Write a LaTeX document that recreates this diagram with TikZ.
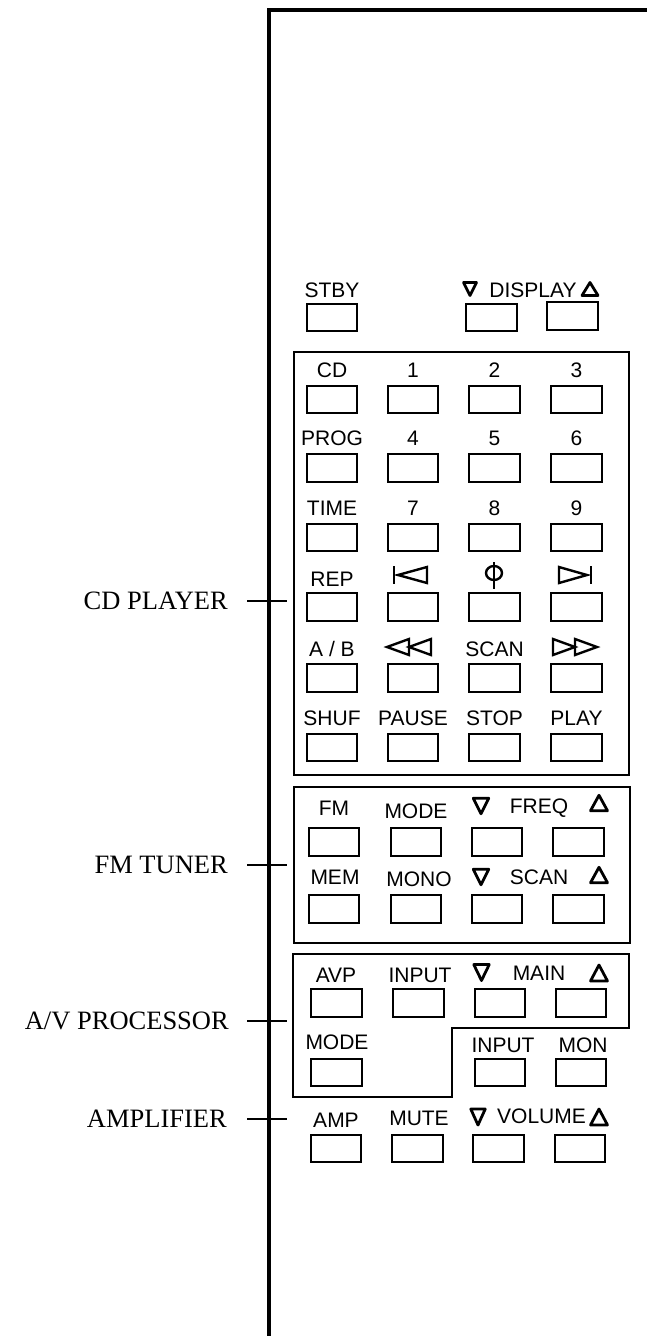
\documentclass[tikz,border=0pt]{standalone}
\usepackage{fontspec}
\setmainfont{Liberation Serif}
\newfontfamily\labfont{Liberation Sans}
\newcommand\lblfont{\labfont\fontsize{21}{21}\selectfont}
\newcommand\grpfont{\fontsize{26.5}{26.5}\selectfont}
% outlined triangles: centre x, centre y, width, height (y grows downwards)
\newcommand\dntri[4]{\draw[trist] ({#1-#3/2},{#2-#4/2}) -- ({#1+#3/2},{#2-#4/2}) -- (#1,{#2+#4/2}) -- cycle;}
\newcommand\uptri[4]{\draw[trist] ({#1-#3/2},{#2+#4/2}) -- ({#1+#3/2},{#2+#4/2}) -- (#1,{#2-#4/2}) -- cycle;}
\begin{document}
\begin{tikzpicture}[x=1pt,y=-1pt,
  btn/.style={draw, line width=2.4pt, minimum width=50.5pt, minimum height=27.5pt, inner sep=0pt},
  lab/.style={font=\lblfont, inner sep=0pt, text height=15pt, text depth=0pt},
  grp/.style={font=\grpfont, inner sep=0pt, text height=17.5pt, text depth=0pt, anchor=east},
  panel/.style={line width=2.6pt},
  frame/.style={line width=3.4pt},
  tick/.style={line width=2pt},
  trist/.style={line width=2.8pt, line join=round},
  icon/.style={line width=2.4pt, line join=miter}]
\useasboundingbox (0,0) rectangle (647,1336);

% outer frame
\draw[frame] (650,10) -- (269,10) -- (269,1340);

% top row
\node[btn] (stby) at (332,317.5) {};
\node[btn] (disp1) at (491.5,317.5) {};
\node[btn] (disp2) at (572.5,316) {};
\node[lab] (tstby) at (332,290) {STBY};
\node[lab] (tdisp) at (533,290) {DISPLAY};
\dntri{470}{289}{13}{13}
\uptri{590}{289}{16}{13}

% CD panel
\draw[panel] (294,352) rectangle (629,775);
\foreach \r/\cy in {1/399.5, 2/468, 3/537.5, 4/607, 5/678, 6/747.5} {
  \foreach \c/\cx in {1/332, 2/413, 3/494.5, 4/576.5} {
    \node[btn] (cd\r\c) at (\cx,\cy) {};
  }
}
\foreach \r/\cy/\a/\b/\c/\d in {1/370/CD/1/2/3, 2/438/PROG/4/5/6, 3/508/TIME/7/8/9, 6/718/SHUF/PAUSE/STOP/PLAY} {
  \node[lab] (tcd\r1) at (332,\cy) {\a};
  \node[lab] (tcd\r2) at (413,\cy) {\b};
  \node[lab] (tcd\r3) at (494.5,\cy) {\c};
  \node[lab] (tcd\r4) at (576.5,\cy) {\d};
}
\node[lab] (tcd41) at (332,579) {REP};
\node[lab] (tcd51) at (332,649) {A / B};
\node[lab] (tcd53) at (494.5,649) {SCAN};
% CD icons
\draw[icon] (394,566) -- (394,584);
\draw[icon] (398,575) -- (427,567) -- (427,583) -- cycle;
\draw[icon] (494,562) -- (494,589);
\draw[icon] (494,573) ellipse [x radius=8, y radius=7];
\draw[icon] (559,567) -- (559,583) -- (587,575) -- cycle;
\draw[icon] (591,566) -- (591,584);
\draw[icon] (387,647) -- (409,639) -- (409,655) -- cycle;
\draw[icon] (409,647) -- (431,639) -- (431,655) -- cycle;
\draw[icon] (553,639) -- (553,655) -- (575,647) -- cycle;
\draw[icon] (575,639) -- (575,655) -- (597,647) -- cycle;

% FM panel
\draw[panel] (294,787) rectangle (630,943);
\foreach \r/\cy in {1/842, 2/909} {
  \foreach \c/\cx in {1/334, 2/416, 3/497, 4/578.5} {
    \node[btn] (fm\r\c) at (\cx,\cy) {};
  }
}
\node[lab] (tfm) at (334,808) {FM};
\node[lab] (tfmmode) at (416,811) {MODE};
\node[lab] (tfreq) at (539,806) {FREQ};
\dntri{481}{806}{15.5}{15.5}
\uptri{599}{803}{17}{15.5}
\node[lab] (tmem) at (335,877) {MEM};
\node[lab] (tmono) at (419,879) {MONO};
\node[lab] (tfmscan) at (539,877) {SCAN};
\dntri{481}{877}{15.5}{15.5}
\uptri{599}{875}{17}{15.5}

% A/V panel
\draw[panel] (293,954) -- (629,954) -- (629,1028) -- (452,1028) -- (452,1097) -- (293,1097) -- cycle;
\foreach \c/\cx in {1/336.5, 2/418.5, 3/500, 4/581} {
  \node[btn] (av1\c) at (\cx,1003) {};
}
\node[btn] (av21) at (336.5,1072.5) {};
\node[btn] (av23) at (500,1072.5) {};
\node[btn] (av24) at (581,1072.5) {};
\node[lab] (tavp) at (336,975) {AVP};
\node[lab] (tavin) at (420,975) {INPUT};
\node[lab] (tmain) at (539,973) {MAIN};
\dntri{481.5}{972.5}{15.5}{16}
\uptri{599}{973}{17}{16}
\node[lab] (tavmode) at (337,1042) {MODE};
\node[lab] (tavin2) at (503,1045) {INPUT};
\node[lab] (tmon) at (583,1045) {MON};

% amplifier row
\foreach \c/\cx in {1/336, 2/417.5, 3/498.5, 4/580} {
  \node[btn] (amp\c) at (\cx,1148.5) {};
}
\node[lab] (tamp) at (336,1120) {AMP};
\node[lab] (tmute) at (419,1118) {MUTE};
\node[lab] (tvol) at (541.5,1116) {VOLUME};
\dntri{478}{1117}{14.5}{16}
\uptri{599}{1117}{17}{16}

% group labels
\node[grp] (gcd) at (228,601) {CD PLAYER};
\node[grp] (gfm) at (228,865) {FM TUNER};
\node[grp] (gav) at (229,1021) {A/V PROCESSOR};
\node[grp] (gamp) at (227,1119) {AMPLIFIER};
\foreach \n/\y in {cd/601, fm/865, av/1021, amp/1119} {
  \coordinate (k\n a) at (247,\y);
  \coordinate (k\n b) at (287,\y);
  \draw[tick] (k\n a) -- (k\n b);
}
\end{tikzpicture}
\end{document}
